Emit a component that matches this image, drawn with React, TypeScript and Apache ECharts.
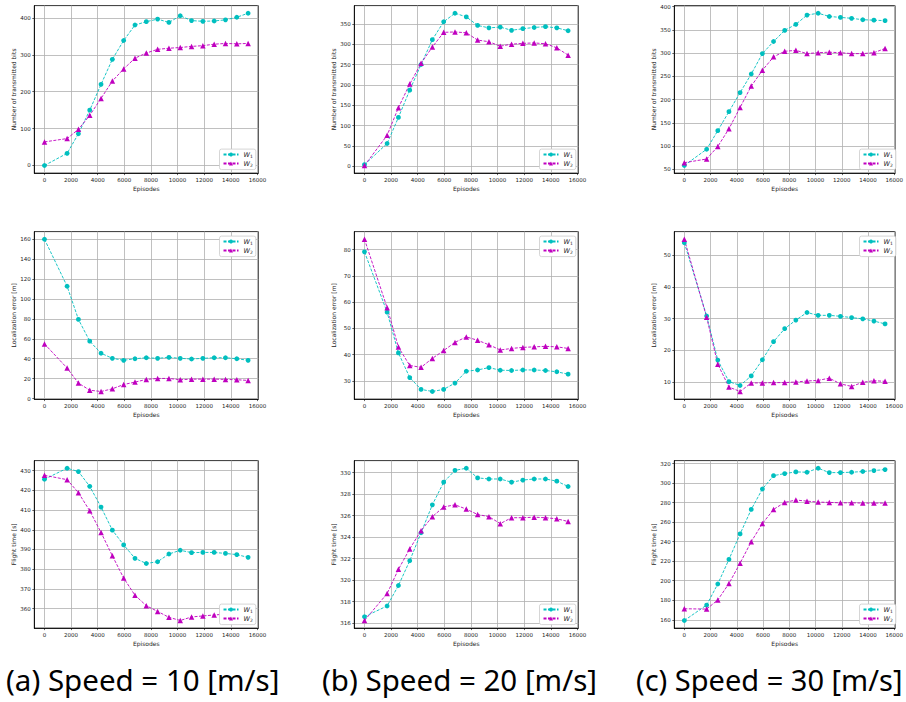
import React, { useEffect, useRef } from 'react';
import * as echarts from 'echarts';

// ---------- data ----------
const episodes = [0, 1700, 2550, 3400, 4250, 5100, 5950, 6800, 7650, 8500, 9350, 10200, 11050, 11900, 12750, 13600, 14450, 15300];
const episodeTicks = [0, 2000, 4000, 6000, 8000, 10000, 12000, 14000, 16000];

// Number of transmitted bits
const bitsW1_10 = [0, 33, 86, 150, 220, 288, 339, 381, 390, 397, 388, 406, 393, 391, 392, 395, 402, 413];
const bitsW2_10 = [64, 73, 98, 136, 182, 229, 262, 291, 305, 315, 318, 320, 323, 325, 329, 331, 330, 331];
const bitsW1_20 = [4, 56, 120, 187, 250, 311, 355, 376, 367, 346, 340, 342, 334, 338, 341, 343, 340, 333];
const bitsW2_20 = [2, 76, 144, 202, 253, 293, 329, 330, 328, 310, 306, 295, 300, 302, 303, 301, 291, 273];
const bitsW1_30 = [58, 93, 133, 174, 215, 255, 299, 325, 349, 362, 382, 386, 379, 377, 375, 372, 371, 370];
const bitsW2_30 = [64, 72, 99, 137, 183, 229, 263, 292, 304, 306, 299, 301, 302, 301, 299, 299, 301, 310];
const bitsTicks10 = [0, 100, 200, 300, 400];
const bitsTicks20 = [0, 50, 100, 150, 200, 250, 300, 350];
const bitsTicks30 = [50, 100, 150, 200, 250, 300, 350, 400];

// Localization error [m]
const locW1_10 = [160, 112.8, 79.5, 57.6, 45.5, 40.4, 38.4, 40, 41, 40.4, 41.4, 40.4, 39.7, 40.4, 41, 41, 40, 38.4];
const locW2_10 = [54.9, 30.6, 15.5, 8.4, 7.1, 9.8, 14.1, 16.5, 19.2, 20.2, 20.2, 18.9, 19.5, 19.5, 19.5, 19.2, 18.9, 18.2];
const locW1_20 = [79.2, 56.2, 40.7, 31.3, 26.8, 26, 26.8, 29.2, 33.7, 34.2, 35.1, 34.1, 34, 34.2, 34.2, 34, 33.5, 32.6];
const locW2_20 = [84, 57.9, 42.9, 35.9, 35.2, 38.6, 41.6, 44.7, 46.8, 45.5, 43.8, 41.8, 42.4, 42.8, 43, 43.2, 43, 42.4];
const locW1_30 = [53.9, 30.8, 16.9, 10.1, 8.9, 11.9, 17, 22.7, 26.8, 29.5, 31.9, 31, 31, 30.7, 30.3, 29.9, 29.2, 28.3];
const locW2_30 = [55, 30.4, 15.6, 8.4, 7, 9.7, 9.7, 9.8, 9.8, 10, 10.3, 10.5, 11.2, 9.4, 8.6, 9.9, 10.4, 10.2];
const locTicks10 = [0, 20, 40, 60, 80, 100, 120, 140, 160];
const locTicks20 = [30, 40, 50, 60, 70, 80];
const locTicks30 = [10, 20, 30, 40, 50];

// Flight time [s]
const timeW1_10 = [425.6, 431.2, 429.5, 422, 411.5, 399.8, 392.3, 385.5, 382.9, 383.8, 387.7, 389.6, 388.4, 388.5, 388.5, 388, 387.4, 386];
const timeW2_10 = [427.6, 425.4, 418.8, 409.6, 398.6, 386.8, 375.5, 366.8, 361.5, 358.6, 355.6, 354, 355.8, 356.3, 356.8, 357.2, 357.5, 357.5];
const timeW1_20 = [316.6, 317.6, 319.5, 321.8, 324.4, 327, 329.1, 330.2, 330.4, 329.5, 329.4, 329.4, 329.1, 329.3, 329.4, 329.4, 329.2, 328.7];
const timeW2_20 = [316.25, 318.75, 321, 322.9, 324.6, 325.9, 326.8, 327, 326.6, 326.1, 325.9, 325.25, 325.8, 325.8, 325.85, 325.8, 325.7, 325.45];
const timeW1_30 = [159.3, 175.1, 196.7, 221.8, 247.9, 273, 293.9, 307.6, 309.7, 311.4, 311.1, 315.2, 310.7, 310.7, 311.1, 311.8, 312.8, 313.8];
const timeW2_30 = [171.3, 171, 180.3, 197.1, 218, 240, 258.5, 273, 280.2, 282.6, 281.5, 280.5, 280.2, 279.8, 279.8, 279.5, 279.5, 279.5];
const timeTicks10 = [360, 370, 380, 390, 400, 410, 420, 430];
const timeTicks20 = [316, 318, 320, 322, 324, 326, 328, 330];
const timeTicks30 = [160, 180, 200, 220, 240, 260, 280, 300, 320];

const seriesNames = ['W1', 'W2'];
const yNames = ['Number of transmitted bits', 'Localization error [m]', 'Flight time [s]'];
const subtitles = ['(a) Speed = 10 [m/s]', '(b) Speed = 20 [m/s]', '(c) Speed = 30 [m/s]'];

const panels = [
  { w1: bitsW1_10, w2: bitsW2_10, ticks: bitsTicks10, row: 0, col: 0, legendTop: false },
  { w1: bitsW1_20, w2: bitsW2_20, ticks: bitsTicks20, row: 0, col: 1, legendTop: false },
  { w1: bitsW1_30, w2: bitsW2_30, ticks: bitsTicks30, row: 0, col: 2, legendTop: false },
  { w1: locW1_10, w2: locW2_10, ticks: locTicks10, row: 1, col: 0, legendTop: true },
  { w1: locW1_20, w2: locW2_20, ticks: locTicks20, row: 1, col: 1, legendTop: true },
  { w1: locW1_30, w2: locW2_30, ticks: locTicks30, row: 1, col: 2, legendTop: true },
  { w1: timeW1_10, w2: timeW2_10, ticks: timeTicks10, row: 2, col: 0, legendTop: false },
  { w1: timeW1_20, w2: timeW2_20, ticks: timeTicks20, row: 2, col: 1, legendTop: false },
  { w1: timeW1_30, w2: timeW2_30, ticks: timeTicks30, row: 2, col: 2, legendTop: false },
];

// ---------- layout ----------
const W = 906;
const H = 702;
const colLeft = [34.3, 354.3, 674.3];
const rowTop = [5.6, 231.6, 460.6];
const gw = 224;
const gh = 167.5;
const subX = [6, 322, 636];
const subSize = [29.5, 29.5, 29];
const FONT = 'DejaVu Sans';
const CYAN = '#00bfbf';
const MAGENTA = '#bf00bf';

const fmt = (step: number) => (v: number) => {
  const r = v / step;
  return Math.abs(r - Math.round(r)) < 1e-6 ? String(Math.round(v * 1000) / 1000) : '';
};

function buildOption() {
  const xMin = episodes[0] - 0.05 * (episodes[episodes.length - 1] - episodes[0]);
  const xMax = episodes[episodes.length - 1] + 0.05 * (episodes[episodes.length - 1] - episodes[0]);
  const xStep = episodeTicks[1] - episodeTicks[0];

  const grid: any[] = [];
  const xAxis: any[] = [];
  const yAxis: any[] = [];
  const series: any[] = [];
  const legend: any[] = [];

  panels.forEach((p, i) => {
    const left = colLeft[p.col];
    const top = rowTop[p.row];
    grid.push({ left, top, width: gw, height: gh, show: true, borderColor: '#000', borderWidth: 0.8, containLabel: false });

    const lo = Math.min(...p.w1, ...p.w2);
    const hi = Math.max(...p.w1, ...p.w2);
    const pad = 0.05 * (hi - lo);
    const yStep = p.ticks[1] - p.ticks[0];

    xAxis.push({
      type: 'value', gridIndex: i, min: xMin, max: xMax, minInterval: xStep, maxInterval: xStep,
      name: 'Episodes', nameLocation: 'middle', nameGap: 12.5,
      nameTextStyle: { fontSize: 6, fontFamily: FONT, color: '#222' },
      axisLine: { show: true, onZero: false, lineStyle: { color: '#000', width: 0.8 } },
      axisTick: { show: true, length: 2, customValues: episodeTicks, lineStyle: { color: '#000', width: 0.6 } },
      axisLabel: { fontSize: 5.5, margin: 4.2, color: '#222', fontFamily: FONT, customValues: episodeTicks, formatter: fmt(xStep) },
      splitLine: { show: true, lineStyle: { color: '#b0b0b0', width: 0.8 } },
    });
    yAxis.push({
      type: 'value', gridIndex: i, min: lo - pad, max: hi + pad, minInterval: yStep, maxInterval: yStep,
      name: yNames[p.row], nameLocation: 'middle', nameGap: 18,
      nameTextStyle: { fontSize: 6, fontFamily: FONT, color: '#222' },
      axisLine: { show: true, onZero: false, lineStyle: { color: '#000', width: 0.8 } },
      axisTick: { show: true, length: 2, customValues: p.ticks, lineStyle: { color: '#000', width: 0.6 } },
      axisLabel: { fontSize: 5.5, margin: 3.6, color: '#222', fontFamily: FONT, customValues: p.ticks, formatter: fmt(yStep) },
      splitLine: { show: true, lineStyle: { color: '#b0b0b0', width: 0.8 } },
    });

    series.push({
      name: seriesNames[0], type: 'line', xAxisIndex: i, yAxisIndex: i,
      data: episodes.map((x, k) => [x, p.w1[k]]),
      symbol: 'circle', symbolSize: 4.8, color: CYAN,
      itemStyle: { color: CYAN },
      lineStyle: { color: CYAN, width: 0.9, type: [3, 1.5] },
      z: 3,
    });
    series.push({
      name: seriesNames[1], type: 'line', xAxisIndex: i, yAxisIndex: i,
      data: episodes.map((x, k) => [x, p.w2[k]]),
      symbol: 'triangle', symbolSize: 5.5, color: MAGENTA,
      itemStyle: { color: MAGENTA },
      lineStyle: { color: MAGENTA, width: 0.9, type: [3, 1.5] },
      z: 3,
    });

    const lg: any = {
      orient: 'vertical', data: seriesNames, selectedMode: false,
      right: W - (left + gw) + 2.5,
      itemWidth: 15, itemHeight: 5, itemGap: 1.5, padding: [2, 3, 2, 3],
      backgroundColor: '#fff', borderColor: '#cccccc', borderWidth: 0.8, borderRadius: 2,
      formatter: (n: string) => (n === 'W1' ? '{w|W}{s|1}' : '{w|W}{s|2}'),
      textStyle: {
        fontSize: 6, color: '#222', fontFamily: FONT,
        rich: {
          w: { fontStyle: 'italic', fontSize: 6.5, fontFamily: FONT, lineHeight: 8, color: '#222' },
          s: { fontSize: 4.5, fontFamily: FONT, lineHeight: 5, verticalAlign: 'bottom', color: '#222' },
        },
      },
      z: 10,
    };
    if (p.legendTop) lg.top = top + 4.5;
    else lg.bottom = H - (top + gh) + 3.5;
    legend.push(lg);
  });

  const graphic = subtitles.map((t, k) => ({
    type: 'text', x: subX[k], y: 679,
    style: { text: t, fontSize: subSize[k], fontFamily: 'Noto Sans', fill: '#000', align: 'left', verticalAlign: 'middle' },
  }));

  return { animation: false, backgroundColor: '#fff', grid, xAxis, yAxis, series, legend, graphic };
}

export default function App() {
  const ref = useRef<HTMLDivElement>(null);
  useEffect(() => {
    if (!ref.current) return;
    const chart = echarts.init(ref.current, undefined, { renderer: 'svg', width: W, height: H });
    chart.setOption(buildOption());
    return () => chart.dispose();
  }, []);
  return <div ref={ref} style={{ position: 'absolute', left: 0, top: 0, width: W, height: H }} />;
}
